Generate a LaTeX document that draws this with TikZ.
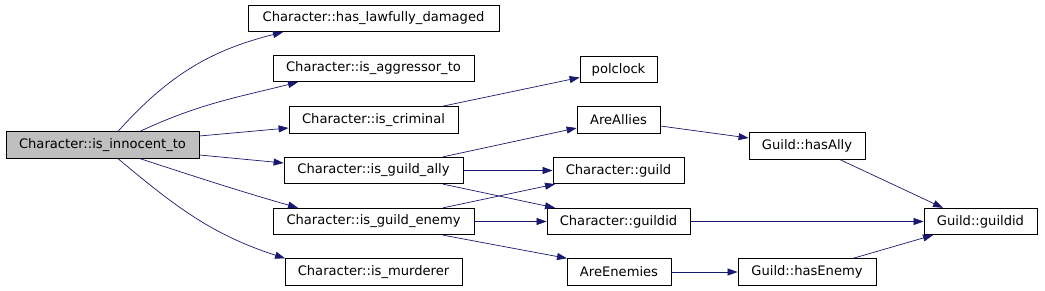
\documentclass[tikz,border=0pt]{standalone}
\usepackage{fontspec}
\setmainfont{DejaVu Sans}
\usepackage{tikz}
\usetikzlibrary{arrows.meta}
\definecolor{edgeblue}{HTML}{191970}

\begin{document}
\begin{tikzpicture}[x=1pt, y=1pt,
    fn/.style={draw=black, fill=white, line width=0.8pt, inner sep=0pt,
      minimum height=26.5pt, font=\fontsize{13.1}{15}\selectfont},
    call/.style={draw=edgeblue, line width=0.7pt,
      -{Triangle[length=10pt, width=7pt, fill=edgeblue]}}]
  \useasboundingbox (0,0) rectangle (1045,291);
  % the function whose graph this is
  \node[fn, fill=black!25, minimum width=193pt] (inn) at (102.5,146) {Character::is\_innocent\_to};
  % direct callees
  \node[fn, minimum width=251pt] (hld) at (373.5,272.5) {Character::has\_lawfully\_damaged};
  \node[fn, minimum width=201pt] (agg) at (373.5,222.5) {Character::is\_aggressor\_to};
  \node[fn, minimum width=169pt] (crim) at (373.5,171) {Character::is\_criminal};
  \node[fn, minimum width=179pt] (ally) at (373.5,120.5) {Character::is\_guild\_ally};
  \node[fn, minimum width=201pt] (enemy) at (373.5,69.5) {Character::is\_guild\_enemy};
  \node[fn, minimum width=177pt] (murd) at (373.5,19) {Character::is\_murderer};
  % second level
  \node[fn, minimum width=77pt] (polclock) at (618.5,221.5) {polclock};
  \node[fn, minimum width=83pt] (areallies) at (618.5,171) {AreAllies};
  \node[fn, minimum width=131pt] (cguild) at (618.5,120.5) {Character::guild};
  \node[fn, minimum width=143pt] (cguildid) at (618.5,69.5) {Character::guildid};
  \node[fn, minimum width=104pt] (areenemies) at (619,19) {AreEnemies};
  % guild level
  \node[fn, minimum width=116pt] (hasally) at (807,145) {Guild::hasAlly};
  \node[fn, minimum width=138pt] (hasenemy) at (807,19) {Guild::hasEnemy};
  \node[fn, minimum width=113pt] (gguildid) at (980.5,69.5) {Guild::guildid};
  % calls out of is_innocent_to
  \draw[call] ([xshift=15.5pt]inn.north) to[out=48, in=194] ([xshift=-90.5pt]hld.south);
  \draw[call] ([xshift=37.5pt]inn.north) to[out=25, in=194] ([xshift=-75.5pt]agg.south);
  \draw[call] ([yshift=9pt]inn.east) -- ([yshift=-8pt]crim.west);
  \draw[call] ([yshift=-10pt]inn.east) -- ([yshift=7.5pt]ally.west);
  \draw[call] ([xshift=37.5pt]inn.south) to[out=-18, in=164] ([xshift=-75.5pt]enemy.north);
  \draw[call] ([xshift=15.5pt]inn.south) to[out=-40, in=162] ([xshift=-88.5pt]murd.north);
  % second level calls
  \draw[call] ([xshift=68.5pt]crim.north) -- ([yshift=-8pt]polclock.west);
  \draw[call] ([xshift=69.5pt]ally.north) -- ([yshift=-8pt]areallies.west);
  \draw[call] (ally.east) -- (cguild.west);
  \draw[call] ([xshift=69.5pt]ally.south) -- ([xshift=-63.5pt]cguildid.north);
  \draw[call] ([xshift=69.5pt]enemy.north) -- ([xshift=-63.5pt]cguild.south);
  \draw[call] (enemy.east) -- (cguildid.west);
  \draw[call] ([xshift=69.5pt]enemy.south) -- ([xshift=-52pt]areenemies.north);
  % into the guild
  \draw[call] ([yshift=-6pt]areallies.east) -- ([yshift=8pt]hasally.west);
  \draw[call] (cguildid.east) -- (gguildid.west);
  \draw[call] (areenemies.east) -- (hasenemy.west);
  \draw[call] ([xshift=33pt]hasally.south) -- ([xshift=-37.5pt]gguildid.north);
  \draw[call] ([xshift=46pt]hasenemy.north) -- ([xshift=-47.5pt]gguildid.south);
\end{tikzpicture}
\end{document}
